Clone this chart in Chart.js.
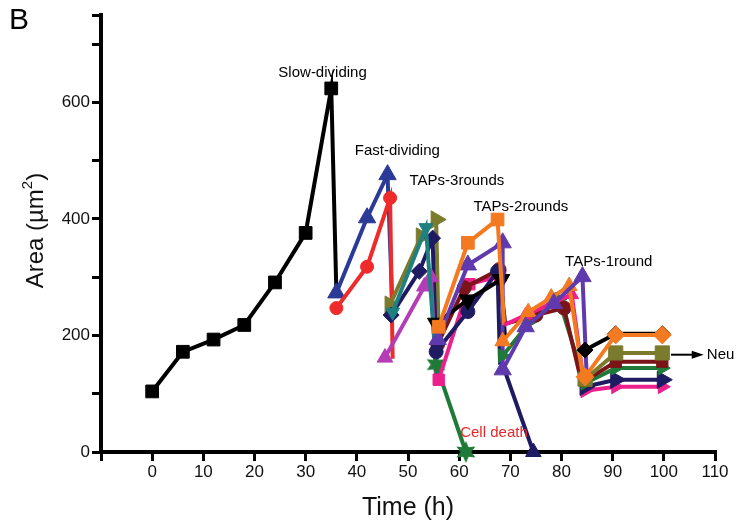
<!DOCTYPE html>
<html lang="en">
<head>
    <meta charset="UTF-8">
    <title>Area over time</title>
    <script src="https://cdn.jsdelivr.net/npm/chart.js"></script>
    <style>
        body { margin: 0; background: #fff; }
        #areaChart { display: block; }
    </style>
</head>
<body>
    <canvas id="areaChart" width="738" height="527"></canvas>
    <script>
        // time (h) and area (um^2) per lineage
        const slowT = [0, 6, 12, 18, 24, 30, 35, 36];
        const slowArea = [104, 172, 193, 218, 291, 376, 624, 275];

        const fastBlueT = [36, 42, 46, 47];
        const fastBlueArea = [273, 402, 476, 236];
        const fastRedT = [36, 42, 46.5, 47];
        const fastRedArea = [247, 318, 436, 160];

        const taps3OliveT = [46.5, 52.6, 55.5, 56];
        const taps3OliveArea = [253, 370, 399, 195];
        const taps3NavyT = [46.7, 52.2, 54.8, 55.5];
        const taps3NavyArea = [235, 310, 367, 172];
        const taps3MagentaT = [45.5, 53.2, 54.5, 55.5];
        const taps3MagentaArea = [162, 284, 300, 124];
        const taps3TealT = [47, 53.5, 55.5];
        const taps3TealArea = [240, 385, 150];

        const taps2OrangeT = [56, 61.7, 67.5, 68.8];
        const taps2OrangeArea = [215, 359, 399, 218];
        const taps2PurpleT = [55.8, 61.7, 68.5, 68.5];
        const taps2PurpleArea = [193, 321, 359, 141];
        const taps2BlackT = [55.5, 61.7, 68.2, 69];
        const taps2BlackArea = [221, 261, 296, 190];
        const taps2NavyT = [55.5, 61.7, 67.5, 68];
        const taps2NavyArea = [172, 241, 310, 150];
        const taps2MaroonT = [55.8, 61, 67.8, 69];
        const taps2MaroonArea = [185, 282, 313, 220];
        const taps2PinkT = [56, 62, 68, 68.8];
        const taps2PinkArea = [124, 288, 302, 218];
        const taps2GreenT = [55.5, 61.3];
        const taps2GreenArea = [150, 0];

        const taps1PinkT = [68.8, 73, 78, 82, 84.6];
        const taps1PinkArea = [218, 235, 255, 270, 105];
        const taps1OrangeT = [68.5, 73.5, 78, 81.5, 84.2];
        const taps1OrangeArea = [190, 240, 265, 285, 129];
        const taps1MaroonT = [69, 75, 80.5, 83.5];
        const taps1MaroonArea = [220, 235, 247, 135];
        const taps1PurpleT = [68.5, 73, 78.5, 84.1, 85];
        const taps1PurpleArea = [141, 215, 255, 301, 115];
        const taps1GreenT = [68.5, 74, 79.5, 84.5];
        const taps1GreenArea = [165, 225, 262, 120];
        const taps1NavyT = [68.5, 74.5];
        const taps1NavyArea = [150, 0];

        const neuT = [84.6, 90.6, 99.7];
        const neuBlackArea = [175, 203, 203];
        const neuOrangeArea = [129, 201, 201];
        const neuOliveArea = [125, 170, 170];
        const neuMaroonArea = [122, 155, 155];
        const neuGreenArea = [118, 144, 144];
        const neuNavyArea = [112, 124, 124];
        const neuPinkArea = [105, 112, 112];

        const xTicks = [-10, 0, 10, 20, 30, 40, 50, 60, 70, 80, 90, 100, 110];
        const yTicks = [0, 100, 200, 300, 400, 500, 600, 700, 750];

        const FONT = '"Liberation Sans", Arial, sans-serif';

        const C = {
            black: '#000000', blue: '#2b3a96', red: '#ee2a2a', olive: '#7b7b2e',
            navy: '#1f1b63', magenta: '#b43cb4', teal: '#1e8080', orange: '#f47a22',
            purple: '#5f3aae', maroon: '#7a1418', pink: '#ec1f8c', green: '#1f7a38'
        };

        // filled six-point star, used as a point image
        function starImage(color, r) {
            const c = document.createElement('canvas');
            c.width = c.height = r * 2 + 2;
            const g = c.getContext('2d');
            g.fillStyle = color;
            g.beginPath();
            for (let i = 0; i < 12; i++) {
                const ang = -Math.PI / 2 + i * Math.PI / 6;
                const rr = i % 2 === 0 ? r : r * 0.5;
                g.lineTo(r + 1 + rr * Math.cos(ang), r + 1 + rr * Math.sin(ang));
            }
            g.closePath();
            g.fill();
            return c;
        }
        const greenStar = starImage(C.green, 11);

        // one line dataset; "noMark" lists points that are only joints
        function lineage(label, t, a, color, style, rotation, radius, noMark) {
            const hide = noMark || [];
            return {
                label: label,
                data: t.map((x, i) => ({ x: x, y: a[i] })),
                borderColor: color,
                backgroundColor: color,
                borderWidth: 4,
                pointStyle: style,
                rotation: rotation,
                pointRadius: ctx => hide.includes(ctx.dataIndex) ? 0 : radius,
                pointBorderWidth: 1,
                pointBorderColor: color,
                pointBackgroundColor: color,
                clip: false,
                tension: 0
            };
        }

        const datasets = [
            lineage('slow', slowT, slowArea, C.black, 'rect', 0, 9, [7]),
            lineage('fastBlue', fastBlueT, fastBlueArea, C.blue, 'triangle', 0, 10, [3]),
            lineage('fastRed', fastRedT, fastRedArea, C.red, 'circle', 0, 6.5, [3]),

            lineage('t3Olive', taps3OliveT, taps3OliveArea, C.olive, 'triangle', 90, 10, [3]),
            lineage('t3Navy', taps3NavyT, taps3NavyArea, C.navy, 'rectRot', 0, 8, [3]),
            lineage('t3Magenta', taps3MagentaT, taps3MagentaArea, C.magenta, 'triangle', 0, 9, [3]),
            lineage('t3Teal', taps3TealT, taps3TealArea, C.teal, 'triangle', 180, 8, [2]),

            lineage('t2Green', taps2GreenT, taps2GreenArea, C.green, greenStar, 0, 11, []),
            lineage('t2Pink', taps2PinkT, taps2PinkArea, C.pink, 'rect', 0, 8, [3]),
            lineage('t2Maroon', taps2MaroonT, taps2MaroonArea, C.maroon, 'circle', 0, 7, [3]),
            lineage('t2Navy', taps2NavyT, taps2NavyArea, C.navy, 'circle', 0, 7, [3]),
            lineage('t2Black', taps2BlackT, taps2BlackArea, C.black, 'triangle', 180, 10, [3]),
            lineage('t2Purple', taps2PurpleT, taps2PurpleArea, C.purple, 'triangle', 0, 10, [3]),
            lineage('t2Orange', taps2OrangeT, taps2OrangeArea, C.orange, 'rect', 0, 9, [3]),

            lineage('t1Navy', taps1NavyT, taps1NavyArea, C.navy, 'triangle', 0, 9, [0]),
            lineage('t1Green', taps1GreenT, taps1GreenArea, C.green, 'triangle', 90, 8, [3]),
            lineage('t1Maroon', taps1MaroonT, taps1MaroonArea, C.maroon, 'circle', 0, 7, [0, 3]),
            lineage('t1Pink', taps1PinkT, taps1PinkArea, C.pink, 'triangle', 0, 8, [0, 4]),
            lineage('t1Orange', taps1OrangeT, taps1OrangeArea, C.orange, 'triangle', 0, 9, [4]),
            lineage('t1Purple', taps1PurpleT, taps1PurpleArea, C.purple, 'triangle', 0, 10, [4]),

            lineage('nPink', neuT, neuPinkArea, C.pink, 'triangle', 90, 8, []),
            lineage('nNavy', neuT, neuNavyArea, C.navy, 'triangle', 90, 10, []),
            lineage('nGreen', neuT, neuGreenArea, C.green, 'triangle', 90, 8, []),
            lineage('nMaroon', neuT, neuMaroonArea, C.maroon, 'rect', 0, 8, []),
            lineage('nOlive', neuT, neuOliveArea, C.olive, 'rect', 0, 10, []),
            lineage('nBlack', neuT, neuBlackArea, C.black, 'rectRot', 0, 8, []),
            lineage('nOrange', neuT, neuOrangeArea, C.orange, 'rectRot', 0, 9, [])
        ].reverse();

        // text labels placed in data coordinates, plus the y title with superscript
        const notes = {
            id: 'notes',
            afterDatasetsDraw(chart) {
                const ctx = chart.ctx;
                const xs = chart.scales.x, ys = chart.scales.y;
                const put = (txt, t, a, align, color) => {
                    ctx.fillStyle = color || '#000';
                    ctx.textAlign = align;
                    ctx.fillText(txt, xs.getPixelForValue(t), ys.getPixelForValue(a));
                };
                ctx.save();
                ctx.font = '15px ' + FONT;
                ctx.textBaseline = 'middle';
                put('Slow-dividing', 33.3, 651, 'center');
                put('Fast-dividing', 39.6, 516, 'left');
                put('TAPs-3rounds', 50.3, 465, 'left');
                put('TAPs-2rounds', 62.8, 420, 'left');
                put('TAPs-1round', 80.7, 327, 'left');
                put('Cell death', 60.2, 33, 'left', '#e8262a');
                put('Neu', 108.4, 167, 'left');

                // arrow toward "Neu"
                const x0 = xs.getPixelForValue(101.4), x1 = xs.getPixelForValue(107.8);
                const y = ys.getPixelForValue(167);
                ctx.strokeStyle = '#000';
                ctx.lineWidth = 2;
                ctx.beginPath();
                ctx.moveTo(x0, y);
                ctx.lineTo(x1 - 8, y);
                ctx.stroke();
                ctx.fillStyle = '#000';
                ctx.beginPath();
                ctx.moveTo(x1, y);
                ctx.lineTo(x1 - 12, y - 4);
                ctx.lineTo(x1 - 12, y + 4);
                ctx.closePath();
                ctx.fill();

                // y axis title: Area (um^2)
                ctx.translate(36, ys.getPixelForValue(380));
                ctx.rotate(-Math.PI / 2);
                ctx.fillStyle = '#111';
                ctx.textBaseline = 'middle';
                ctx.textAlign = 'left';
                ctx.font = '24px ' + FONT;
                const main = 'Area (\u00b5m';
                const w1 = ctx.measureText(main).width;
                ctx.font = '15px ' + FONT;
                const w2 = ctx.measureText('2').width;
                ctx.font = '24px ' + FONT;
                const w3 = ctx.measureText(')').width;
                let sx = -(w1 + w2 + w3) / 2;
                ctx.fillText(main, sx, 0);
                ctx.font = '15px ' + FONT;
                ctx.fillText('2', sx + w1, -8);
                ctx.font = '24px ' + FONT;
                ctx.fillText(')', sx + w1 + w2, 0);
                ctx.setTransform(1, 0, 0, 1, 0, 0);

                ctx.fillStyle = '#000';
                ctx.font = '30px ' + FONT;
                ctx.textAlign = 'left';
                ctx.textBaseline = 'top';
                ctx.fillText('B', 9, 6);
                ctx.restore();
            }
        };

        new Chart(document.getElementById('areaChart'), {
            type: 'line',
            data: { datasets: datasets },
            options: {
                responsive: false,
                animation: false,
                devicePixelRatio: 1,
                layout: { padding: { left: 0, right: 23, top: 15, bottom: 0 } },
                plugins: { legend: { display: false }, tooltip: { enabled: false } },
                scales: {
                    x: {
                        type: 'linear',
                        min: -10,
                        max: 110,
                        afterBuildTicks: s => { s.ticks = xTicks.map(v => ({ value: v })); },
                        afterFit: s => { s.height = 75; },
                        border: { color: '#000', width: 4 },
                        grid: { drawOnChartArea: false, color: '#000', lineWidth: 3, tickLength: 9 },
                        ticks: {
                            color: '#111',
                            font: { family: FONT, size: 17 },
                            padding: 1,
                            maxRotation: 0,
                            autoSkip: false,
                            callback: v => v < 0 ? '' : v
                        },
                        title: {
                            display: true,
                            text: 'Time (h)',
                            color: '#111',
                            font: { family: FONT, size: 25 },
                            padding: { top: 8 }
                        }
                    },
                    y: {
                        min: 0,
                        max: 750,
                        afterBuildTicks: s => { s.ticks = yTicks.map(v => ({ value: v })); },
                        afterFit: s => { s.width = 101; },
                        border: { color: '#000', width: 4 },
                        grid: { drawOnChartArea: false, color: '#000', lineWidth: 3, tickLength: 9 },
                        ticks: {
                            color: '#111',
                            font: { family: FONT, size: 17 },
                            padding: 2,
                            autoSkip: false,
                            callback: v => (v % 200 === 0 && v <= 600) ? v : ''
                        },
                        title: { display: false }
                    }
                }
            },
            plugins: [notes]
        });
    </script>
</body>
</html>
